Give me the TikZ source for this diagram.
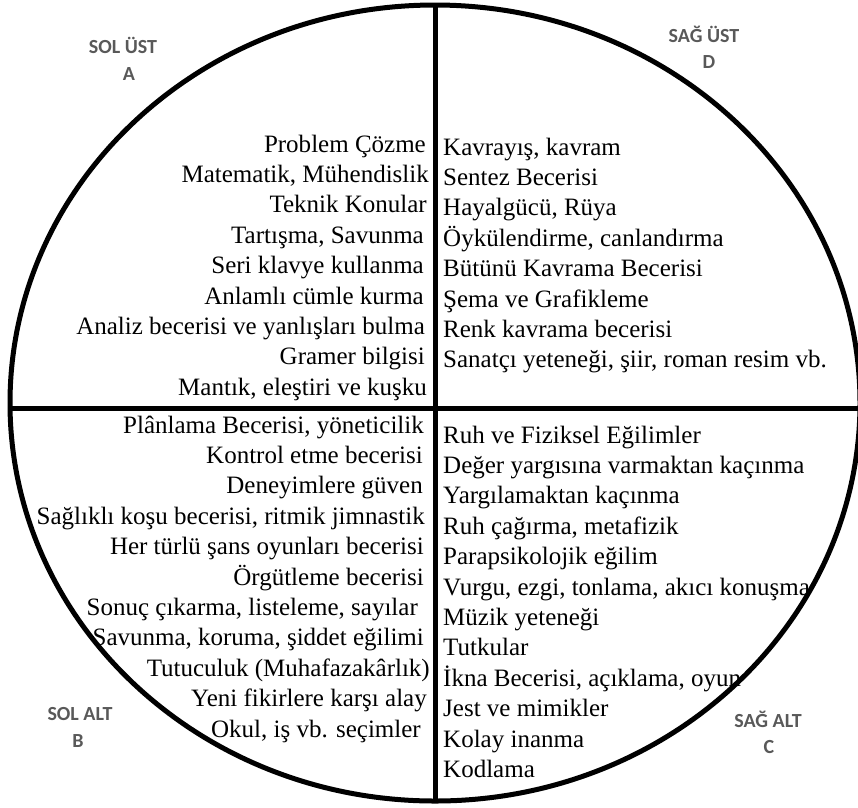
\documentclass[tikz,border=0pt]{standalone}
\usepackage{fontspec}
\setmainfont{Liberation Serif}
\newfontfamily\labfont{Carlito}
\definecolor{labgray}{HTML}{595959}
\begin{document}
\begin{tikzpicture}[x=1pt,y=-1pt,
  item/.style={inner sep=0pt, font=\fontsize{25}{30}\selectfont},
  le/.style={item, anchor=base east},
  ri/.style={item, anchor=base west},
  quad/.style={inner sep=0pt, anchor=base, text=labgray, font=\labfont\bfseries\fontsize{20}{24}\selectfont},
  frame/.style={line width=5pt, draw=black}]
\useasboundingbox (0,0) rectangle (858,807);
% outline and cross
\draw[frame] (435,403) ellipse [x radius=425pt, y radius=398pt];
\coordinate (vtop) at (435,5);
\coordinate (vbot) at (435,801);
\coordinate (hleft) at (10,408);
\coordinate (hright) at (858,408);
\draw[frame] (vtop) -- (vbot);
\draw[frame] (hleft) -- (hright);
% quadrant labels
\node[quad] (qa1) at (123,53) {SOL ÜST};
\node[quad] (qa2) at (129,80) {A};
\node[quad] (qd1) at (704,42) {SAĞ ÜST};
\node[quad] (qd2) at (709,68) {D};
\node[quad] (qb1) at (80,720) {SOL ALT};
\node[quad] (qb2) at (78,747) {B};
\node[quad] (qc1) at (768,727) {SAĞ ALT};
\node[quad] (qc2) at (769,753) {C};
% top left
\foreach [count=\i] \t/\x in {Problem Çözme/426, {Matematik, Mühendislik}/429, Teknik Konular/427,
  {Tartışma, Savunma}/424, Seri klavye kullanma/424, Anlamlı cümle kurma/424,
  Analiz becerisi ve yanlışları bulma/425, Gramer bilgisi/425, {Mantık, eleştiri ve kuşku}/427}
  \node[le] (tl\i) at (\x,{152+30.4*(\i-1)}) {\t};
% top right
\foreach [count=\i] \t in {{Kavrayış, kavram}, Sentez Becerisi, {Hayalgücü, Rüya},
  {Öykülendirme, canlandırma}, Bütünü Kavrama Becerisi, Şema ve Grafikleme,
  Renk kavrama becerisi, {Sanatçı yeteneği, şiir, roman resim vb.}}
  \node[ri] (tr\i) at (443,{155+30.4*(\i-1)}) {\t};
% bottom left
\foreach [count=\i] \t/\x in {{Plânlama Becerisi, yöneticilik}/424, Kontrol etme becerisi/423,
  Deneyimlere güven/423, {Sağlıklı koşu becerisi, ritmik jimnastik}/425,
  Her türlü şans oyunları becerisi/424, Örgütleme becerisi/424,
  {Sonuç çıkarma, listeleme, sayılar}/418, {Savunma, koruma, şiddet eğilimi}/424,
  Tutuculuk (Muhafazakârlık)/430, Yeni fikirlere karşı alay/427, {Okul, iş vb. seçimler}/421}
  \node[le] (bl\i) at (\x,{433+30.4*(\i-1)}) {\t};
% bottom right
\foreach [count=\i] \t in {Ruh ve Fiziksel Eğilimler, Değer yargısına varmaktan kaçınma,
  Yargılamaktan kaçınma, {Ruh çağırma, metafizik}, Parapsikolojik eğilim,
  {Vurgu, ezgi, tonlama, akıcı konuşma}, Müzik yeteneği, Tutkular,
  {İkna Becerisi, açıklama, oyun}, Jest ve mimikler, Kolay inanma, Kodlama}
  \node[ri] (br\i) at (443,{443+30.4*(\i-1)}) {\t};
\end{tikzpicture}
\end{document}
